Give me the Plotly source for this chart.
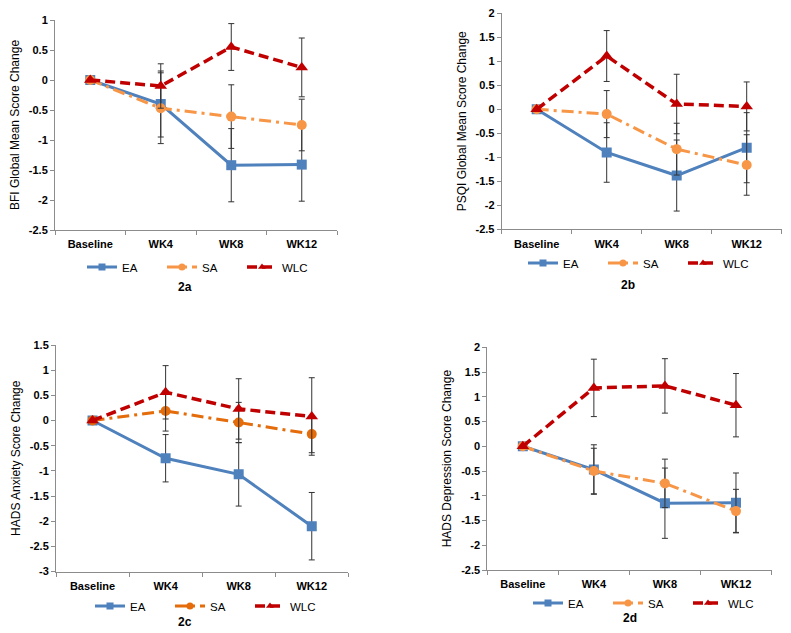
import plotly.graph_objects as go

W, H = 791, 633
OFF = 8  # default page body margin in the browser
FW, FH = W - OFF, H - OFF

CATEGORIES = ["Baseline", "WK4", "WK8", "WK12"]
SERIES = ["EA", "SA", "WLC"]

# Panel 2a – BFI
A_EA = [0, -0.40, -1.42, -1.41]
A_SA = [0, -0.47, -0.61, -0.75]
A_WLC = [0, -0.10, 0.55, 0.21]
A_EA_ERR = [None, 0.55, 0.61, 0.61]
A_SA_ERR = [None, 0.59, 0.53, 0.43]
A_WLC_ERR = [None, 0.37, 0.39, 0.49]
A_YTICKS = [1, 0.5, 0, -0.5, -1, -1.5, -2, -2.5]

# Panel 2b – PSQI
B_EA = [0, -0.90, -1.38, -0.80]
B_SA = [0, -0.10, -0.83, -1.16]
B_WLC = [0, 1.11, 0.11, 0.06]
B_EA_ERR = [None, 0.62, 0.74, 0.73]
B_SA_ERR = [None, 0.49, 0.54, 0.63]
B_WLC_ERR = [None, 0.53, 0.62, 0.51]
B_YTICKS = [2, 1.5, 1, 0.5, 0, -0.5, -1, -1.5, -2, -2.5]

# Panel 2c – HADS Anxiety
C_EA = [0, -0.75, -1.07, -2.10]
C_SA = [0, 0.19, -0.04, -0.27]
C_WLC = [0, 0.56, 0.23, 0.08]
C_EA_ERR = [None, 0.47, 0.63, 0.67]
C_SA_ERR = [None, 0.40, 0.40, 0.37]
C_WLC_ERR = [None, 0.53, 0.60, 0.77]
C_YTICKS = [1.5, 1, 0.5, 0, -0.5, -1, -1.5, -2, -2.5, -3]

# Panel 2d – HADS Depression
D_EA = [0, -0.47, -1.15, -1.14]
D_SA = [0, -0.50, -0.75, -1.31]
D_WLC = [0, 1.18, 1.22, 0.83]
D_EA_ERR = [None, 0.50, 0.71, 0.60]
D_SA_ERR = [None, 0.46, 0.49, 0.44]
D_WLC_ERR = [None, 0.58, 0.55, 0.64]
D_YTICKS = [2, 1.5, 1, 0.5, 0, -0.5, -1, -1.5, -2, -2.5]

FONT = "Liberation Sans, Arial, sans-serif"
BLUE = "#4F81BD"
ORANGE = "#F79646"
ORANGE_DARK = "#E46C0A"
RED = "#C00000"
AXIS_GRAY = "#8C8C8C"
ERR_COLOR = "#333333"


def tick_text(vals):
    return [("%g" % v) for v in vals]


def fx(px):
    return (px - OFF) / FW


def fy(py):
    return 1 - (py - OFF) / FH


panels = [
    dict(ea=A_EA, sa=A_SA, wlc=A_WLC, eae=A_EA_ERR, sae=A_SA_ERR, wlce=A_WLC_ERR,
         yt=A_YTICKS, title="BFI Global Mean Score Change", label="2a",
         px=(55, 337), py=(20, 230), leg=(82, 267), lab=(185, 287), sa_col=ORANGE),
    dict(ea=B_EA, sa=B_SA, wlc=B_WLC, eae=B_EA_ERR, sae=B_SA_ERR, wlce=B_WLC_ERR,
         yt=B_YTICKS, title="PSQI Global Mean Score Change", label="2b",
         px=(501.7, 781.7), py=(13.3, 229.3), leg=(523, 263), lab=(628, 285), sa_col=ORANGE),
    dict(ea=C_EA, sa=C_SA, wlc=C_WLC, eae=C_EA_ERR, sae=C_SA_ERR, wlce=C_WLC_ERR,
         yt=C_YTICKS, title="HADS Anxiety Score Change", label="2c",
         px=(56, 348.3), py=(345, 571.5), leg=(90, 606), lab=(185, 622), sa_col=ORANGE_DARK),
    dict(ea=D_EA, sa=D_SA, wlc=D_WLC, eae=D_EA_ERR, sae=D_SA_ERR, wlce=D_WLC_ERR,
         yt=D_YTICKS, title="HADS Depression Score Change", label="2d",
         px=(487.3, 771.5), py=(347.3, 570), leg=(528, 603), lab=(630, 618), sa_col=ORANGE),
]

fig = go.Figure()
layout_upd = {}
annotations = []

for i, p in enumerate(panels):
    idx = "" if i == 0 else str(i + 1)
    xa, ya = "x" + idx, "y" + idx
    leg = "legend" + idx
    specs = [
        ("EA", p["ea"], p["eae"], BLUE, "solid", 3, "square", 10),
        ("SA", p["sa"], p["sae"], p["sa_col"], "12px,5px,3px,5px", 3, "circle", 10),
        ("WLC", p["wlc"], p["wlce"], RED, "10px,5px", 3.5, "triangle-up", 11),
    ]
    for nm, vals, errs, col, dash, lw, sym, ms in specs:
        fig.add_trace(go.Scatter(
            x=CATEGORIES, y=vals, name=nm, mode="lines+markers",
            xaxis=xa, yaxis=ya, showlegend=False,
            line=dict(color=col, width=lw, dash=dash),
            marker=dict(symbol=sym, size=ms, color=col),
            error_y=dict(type="data", array=errs, visible=True,
                         color=ERR_COLOR, thickness=1, width=3),
        ))
    # legend-only entries (smaller markers, as in the reference legend)
    for nm, vals, errs, col, dash, lw, sym, ms in specs:
        fig.add_trace(go.Scatter(
            x=[None], y=[None], name=nm, mode="lines+markers",
            xaxis=xa, yaxis=ya, legend=leg, showlegend=True,
            line=dict(color=col, width=lw, dash=dash),
            marker=dict(symbol=sym, size=7, color=col),
        ))

    x0, x1 = p["px"]
    y0, y1 = p["py"]
    layout_upd["xaxis" + idx] = dict(
        domain=[fx(x0), fx(x1)], anchor=ya, type="category",
        range=[-0.5, 3.5], showline=True, linecolor=AXIS_GRAY, linewidth=1,
        ticks="outside", tickson="boundaries", ticklen=4, tickcolor=AXIS_GRAY,
        ticklabelstandoff=4,
        showgrid=False, zeroline=False, automargin=False,
        tickfont=dict(family=FONT, size=11, color="black", weight="bold"),
        fixedrange=True,
    )
    yt = p["yt"]
    layout_upd["yaxis" + idx] = dict(
        domain=[fy(y1), fy(y0)], anchor=xa,
        range=[min(yt), max(yt)], tickvals=yt, ticktext=tick_text(yt),
        showline=True, linecolor=AXIS_GRAY, linewidth=1,
        ticks="outside", ticklen=4, tickcolor=AXIS_GRAY,
        ticklabeloverflow="allow",
        showgrid=False, zeroline=False, automargin=False,
        tickfont=dict(family=FONT, size=11, color="black", weight="bold"),
        title=dict(text=p["title"], font=dict(family=FONT, size=12, color="black"), standoff=6),
        fixedrange=True,
    )
    lx, ly = p["leg"]
    layout_upd[leg] = dict(
        orientation="h", x=fx(lx), y=fy(ly), xanchor="left", yanchor="middle",
        font=dict(family=FONT, size=11.5, color="black"), bgcolor="rgba(0,0,0,0)",
        entrywidth=35, entrywidthmode="pixels", tracegroupgap=0,
    )
    annotations.append(dict(
        x=fx(p["lab"][0]), y=fy(p["lab"][1]), xref="paper", yref="paper",
        text="<b>%s</b>" % p["label"], showarrow=False,
        font=dict(family=FONT, size=12, color="black"), xanchor="center", yanchor="middle",
    ))

fig.update_layout(
    width=FW, height=FH, margin=dict(l=0, r=0, t=0, b=0, autoexpand=False),
    paper_bgcolor="white", plot_bgcolor="white",
    annotations=annotations, **layout_upd,
)

fig.write_html("out.html")
